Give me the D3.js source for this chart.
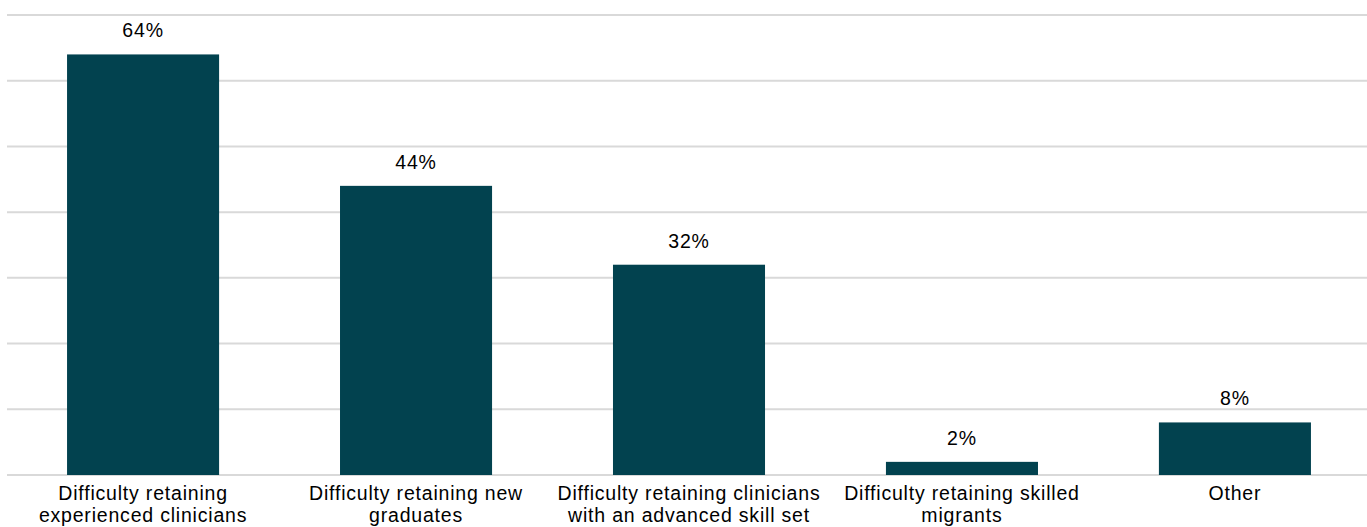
<!DOCTYPE html>
<html>
<head>
<meta charset="utf-8">
<script src="https://cdn.jsdelivr.net/npm/d3@7/dist/d3.min.js"></script>
<style>
  html, body { margin: 0; padding: 0; background: #fff; }
  svg { display: block; }
  text { font-family: "Liberation Sans", Arial, sans-serif; fill: #000; letter-spacing: 0.8px; }
</style>
</head>
<body>
<svg id="chart" width="1367" height="527"></svg>
<script>
// Reasons for clinician retention difficulty (share of respondents, %)
const categories = [
  ["Difficulty retaining", "experienced clinicians"],
  ["Difficulty retaining new", "graduates"],
  ["Difficulty retaining clinicians", "with an advanced skill set"],
  ["Difficulty retaining skilled", "migrants"],
  ["Other"]
];
const values = [64, 44, 32, 2, 8];
const gridTicks = [0, 10, 20, 30, 40, 50, 60, 70];

const svg = d3.select("#chart");
const W = 1367, H = 527;
const gridLeft = 7, gridRight = 1367;
const plotTop = 15, plotBottom = 475;

const x = d3.scaleBand()
  .domain(d3.range(categories.length))
  .range([7, 1371])
  .paddingInner(0.443)
  .paddingOuter(0.22);

const y = d3.scaleLinear()
  .domain([0, 70])
  .range([plotBottom, plotTop]);

// horizontal gridlines
svg.append("g")
  .selectAll("line")
  .data(gridTicks)
  .join("line")
  .attr("x1", gridLeft)
  .attr("x2", gridRight)
  .attr("y1", d => y(d))
  .attr("y2", d => y(d))
  .attr("stroke", "#d9d9d9")
  .attr("stroke-width", 2);

// bars
svg.append("g")
  .selectAll("rect")
  .data(values)
  .join("rect")
  .attr("x", (d, i) => x(i))
  .attr("width", x.bandwidth())
  .attr("y", d => y(d))
  .attr("height", d => y(0) - y(d))
  .attr("fill", "#02424f");

// value labels
svg.append("g")
  .selectAll("text")
  .data(values)
  .join("text")
  .attr("x", (d, i) => x(i) + x.bandwidth() / 2)
  .attr("y", d => y(d) - 17)
  .attr("text-anchor", "middle")
  .attr("font-size", 19.5)
  .text(d => d + "%");

// category labels
const cat = svg.append("g")
  .selectAll("text")
  .data(categories)
  .join("text")
  .attr("x", (d, i) => x(i) + x.bandwidth() / 2)
  .attr("y", y(0) + 25)
  .attr("text-anchor", "middle")
  .attr("font-size", 19.5);

cat.selectAll("tspan")
  .data(d => d)
  .join("tspan")
  .attr("x", function () { return d3.select(this.parentNode).attr("x"); })
  .attr("dy", (d, i) => i === 0 ? 0 : 22)
  .text(d => d);
</script>
</body>
</html>
